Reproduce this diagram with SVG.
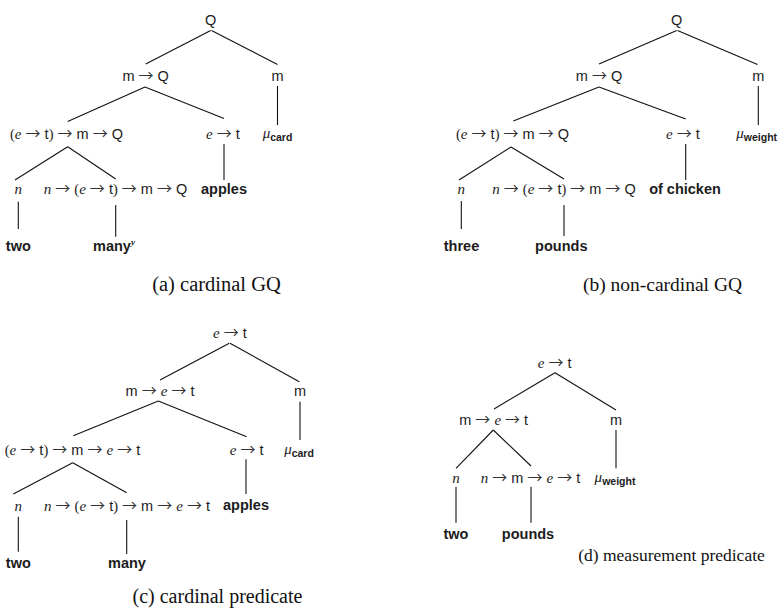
<svg xmlns="http://www.w3.org/2000/svg" width="779" height="608" viewBox="0 0 779 608">
<style>
text{font-family:"Liberation Sans",Arial,sans-serif;font-size:14.5px;fill:#1c1c1c;text-anchor:middle}
.i{font-family:"Liberation Serif","Times New Roman",serif;font-style:italic;font-size:15px}
.r{font-family:"Liberation Serif","Times New Roman",serif}
.a{font-family:"Noto Sans CJK SC","DejaVu Sans",sans-serif;font-size:15px;fill:#333}
.b{font-weight:bold}
.sub{font-weight:bold;font-size:10.5px}
.sup{font-family:"Liberation Serif",serif;font-style:italic;font-size:9px}
text.cap{font-family:"Liberation Serif","Times New Roman",serif;fill:#111}
.c line{stroke:#111;stroke-width:1.1}
</style>
<rect width="779" height="608" fill="#fff"/>
<g class="c" id="connectors">
<line x1="210.7" y1="30.5" x2="145.7" y2="64"/>
<line x1="211.5" y1="30.5" x2="277.5" y2="64.5"/>
<line x1="145" y1="87" x2="67.7" y2="121.5"/>
<line x1="145" y1="87" x2="224" y2="118.5"/>
<line x1="277.5" y1="86" x2="277.5" y2="125"/>
<line x1="67.7" y1="146.7" x2="15" y2="180"/>
<line x1="67.7" y1="146.7" x2="115.7" y2="179"/>
<line x1="224" y1="144" x2="224" y2="180"/>
<line x1="18.3" y1="201.7" x2="18.3" y2="229"/>
<line x1="115.7" y1="205" x2="115.7" y2="236.7"/>

<line x1="676.7" y1="30.5" x2="599" y2="64"/>
<line x1="677.5" y1="30.5" x2="757.5" y2="64.5"/>
<line x1="599" y1="87" x2="513.3" y2="121"/>
<line x1="599" y1="87" x2="685.7" y2="119"/>
<line x1="758.3" y1="86" x2="758.3" y2="125"/>
<line x1="511" y1="147" x2="459" y2="180"/>
<line x1="511" y1="147" x2="564" y2="179"/>
<line x1="685.7" y1="144" x2="685.7" y2="180"/>
<line x1="461.3" y1="201" x2="461.3" y2="229"/>
<line x1="564" y1="205" x2="564" y2="236"/>

<line x1="229.3" y1="343.3" x2="160" y2="380"/>
<line x1="230" y1="343.3" x2="299.3" y2="381.7"/>
<line x1="158.3" y1="401" x2="73.3" y2="435.7"/>
<line x1="158.3" y1="401" x2="246.7" y2="436.7"/>
<line x1="300" y1="401.7" x2="300" y2="440"/>
<line x1="72.7" y1="462.7" x2="13.3" y2="494"/>
<line x1="72.7" y1="462.7" x2="126.7" y2="492.7"/>
<line x1="246" y1="459.3" x2="246" y2="494"/>
<line x1="18.3" y1="516.7" x2="18.3" y2="551.7"/>
<line x1="126.7" y1="520" x2="126.7" y2="554"/>

<line x1="555" y1="372.7" x2="494" y2="409"/>
<line x1="555" y1="372.7" x2="616" y2="410"/>
<line x1="616" y1="430" x2="616" y2="468.3"/>
<line x1="493.3" y1="430" x2="456" y2="468.3"/>
<line x1="493.3" y1="430" x2="531" y2="466"/>
<line x1="456" y1="486.7" x2="456" y2="522.7"/>
<line x1="531" y1="486.7" x2="531" y2="522.7"/>
</g>

<g id="a_Q"><text x="210.7" y="24.5">Q</text></g>
<g id="a_mQ"><text x="145.7" y="80.5">m <tspan class="a">→</tspan> Q</text></g>
<g id="a_m"><text x="277.5" y="80.5">m</text></g>
<g id="a_etmQ"><text x="66.5" y="138.5"><tspan class="r">(</tspan><tspan class="i">e</tspan> <tspan class="a">→</tspan> t<tspan class="r">)</tspan> <tspan class="a">→</tspan> m <tspan class="a">→</tspan> Q</text></g>
<g id="a_et"><text x="223" y="138.5"><tspan class="i">e</tspan> <tspan class="a">→</tspan> t</text></g>
<g id="a_mu"><text x="277.5" y="137.5"><tspan class="i">μ</tspan><tspan class="sub" dy="3">card</tspan></text></g>
<g id="a_n"><text x="18.3" y="194"><tspan class="i">n</tspan></text></g>
<g id="a_many_t"><text x="115.5" y="194"><tspan class="i">n</tspan> <tspan class="a">→</tspan> <tspan class="r">(</tspan><tspan class="i">e</tspan> <tspan class="a">→</tspan> t<tspan class="r">)</tspan> <tspan class="a">→</tspan> m <tspan class="a">→</tspan> Q</text></g>
<g id="a_apples"><text class="b" x="224" y="193.5">apples</text></g>
<g id="a_two"><text class="b" x="18.3" y="250.5">two</text></g>
<g id="a_many"><text class="b" x="114" y="250.5">many<tspan class="sup" dy="-6">y</tspan></text></g>

<g id="b_Q"><text x="676.7" y="24.5">Q</text></g>
<g id="b_mQ"><text x="599" y="80.5">m <tspan class="a">→</tspan> Q</text></g>
<g id="b_m"><text x="758.3" y="80.5">m</text></g>
<g id="b_etmQ"><text x="512.5" y="138.5"><tspan class="r">(</tspan><tspan class="i">e</tspan> <tspan class="a">→</tspan> t<tspan class="r">)</tspan> <tspan class="a">→</tspan> m <tspan class="a">→</tspan> Q</text></g>
<g id="b_et"><text x="683" y="138.5"><tspan class="i">e</tspan> <tspan class="a">→</tspan> t</text></g>
<g id="b_mu"><text x="756.7" y="137.5"><tspan class="i">μ</tspan><tspan class="sub" dy="3">weight</tspan></text></g>
<g id="b_n"><text x="461.3" y="194"><tspan class="i">n</tspan></text></g>
<g id="b_pounds_t"><text x="564" y="194"><tspan class="i">n</tspan> <tspan class="a">→</tspan> <tspan class="r">(</tspan><tspan class="i">e</tspan> <tspan class="a">→</tspan> t<tspan class="r">)</tspan> <tspan class="a">→</tspan> m <tspan class="a">→</tspan> Q</text></g>
<g id="b_chicken"><text class="b" x="685" y="193.5">of chicken</text></g>
<g id="b_three"><text class="b" x="461.5" y="250.5">three</text></g>
<g id="b_pounds"><text class="b" x="561.3" y="250.5">pounds</text></g>

<g id="c_root"><text x="230" y="338"><tspan class="i">e</tspan> <tspan class="a">→</tspan> t</text></g>
<g id="c_met"><text x="160" y="396">m <tspan class="a">→</tspan> <tspan class="i">e</tspan> <tspan class="a">→</tspan> t</text></g>
<g id="c_m"><text x="300" y="396">m</text></g>
<g id="c_l3"><text x="72.5" y="454.5"><tspan class="r">(</tspan><tspan class="i">e</tspan> <tspan class="a">→</tspan> t<tspan class="r">)</tspan> <tspan class="a">→</tspan> m <tspan class="a">→</tspan> <tspan class="i">e</tspan> <tspan class="a">→</tspan> t</text></g>
<g id="c_et"><text x="246.7" y="454.5"><tspan class="i">e</tspan> <tspan class="a">→</tspan> t</text></g>
<g id="c_mu"><text x="299" y="453.5"><tspan class="i">μ</tspan><tspan class="sub" dy="3">card</tspan></text></g>
<g id="c_n"><text x="18.3" y="510.5"><tspan class="i">n</tspan></text></g>
<g id="c_many_t"><text x="127" y="510.5"><tspan class="i">n</tspan> <tspan class="a">→</tspan> <tspan class="r">(</tspan><tspan class="i">e</tspan> <tspan class="a">→</tspan> t<tspan class="r">)</tspan> <tspan class="a">→</tspan> m <tspan class="a">→</tspan> <tspan class="i">e</tspan> <tspan class="a">→</tspan> t</text></g>
<g id="c_apples"><text class="b" x="246" y="510">apples</text></g>
<g id="c_two"><text class="b" x="18.3" y="567.5">two</text></g>
<g id="c_many"><text class="b" x="127" y="567.5">many</text></g>

<g id="d_root"><text x="554.7" y="367.5"><tspan class="i">e</tspan> <tspan class="a">→</tspan> t</text></g>
<g id="d_met"><text x="493.7" y="424.5">m <tspan class="a">→</tspan> <tspan class="i">e</tspan> <tspan class="a">→</tspan> t</text></g>
<g id="d_m"><text x="616" y="424.5">m</text></g>
<g id="d_n"><text x="456" y="482.5"><tspan class="i">n</tspan></text></g>
<g id="d_pounds_t"><text x="530.5" y="482.5"><tspan class="i">n</tspan> <tspan class="a">→</tspan> m <tspan class="a">→</tspan> <tspan class="i">e</tspan> <tspan class="a">→</tspan> t</text></g>
<g id="d_mu"><text x="615" y="481.5"><tspan class="i">μ</tspan><tspan class="sub" dy="3">weight</tspan></text></g>
<g id="d_two"><text class="b" x="456" y="538.5">two</text></g>
<g id="d_pounds"><text class="b" x="528" y="538.5">pounds</text></g>

<g id="captions">
<text class="cap" x="216.5" y="291" style="font-size:20.5px">(a) cardinal GQ</text>
<text class="cap" x="662.5" y="291" style="font-size:19.5px">(b) non-cardinal GQ</text>
<text class="cap" x="217.5" y="603" style="font-size:20px">(c) cardinal predicate</text>
<text class="cap" x="671.5" y="561" style="font-size:17.5px">(d) measurement predicate</text>
</g>
</svg>
